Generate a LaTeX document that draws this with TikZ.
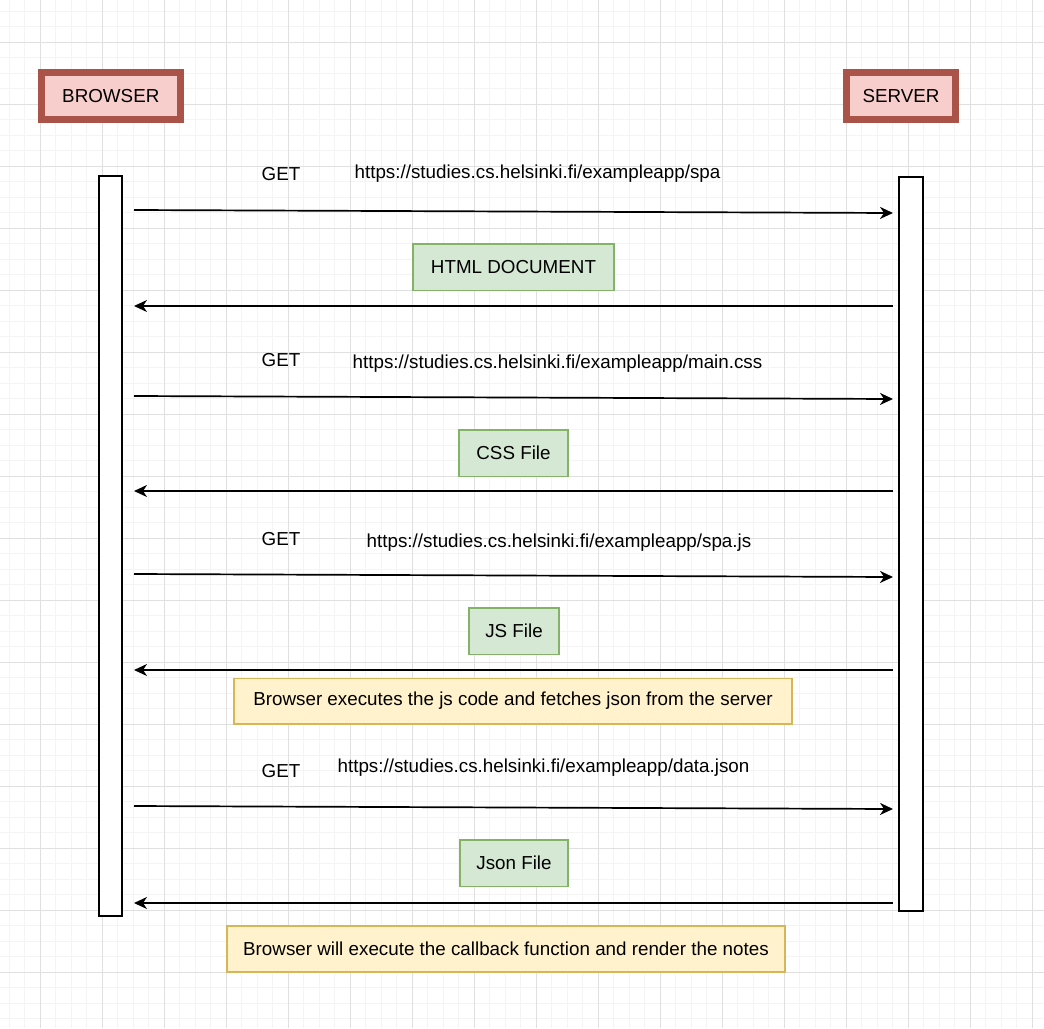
\documentclass[tikz,border=0pt]{standalone}
\usepackage{fontspec}
\setmainfont{Liberation Sans}
\usetikzlibrary{arrows.meta}
\definecolor{gridminor}{HTML}{F4F4F4}
\definecolor{gridmajor}{HTML}{E0E0E0}
\definecolor{actorfill}{HTML}{F8CECC}
\definecolor{actorline}{HTML}{AA5349}
\definecolor{respfill}{HTML}{D5E8D4}
\definecolor{respline}{HTML}{82B366}
\definecolor{notefill}{HTML}{FFF2CC}
\definecolor{noteline}{HTML}{D6B656}
\tikzset{
  lbl/.style={font=\fontsize{18.8}{22}\selectfont, inner sep=0pt},
  actor/.style={lbl, draw=actorline, fill=actorfill, line width=7pt},
  lifeline/.style={draw=black, fill=white, line width=2pt, inner sep=0pt},
  resp/.style={lbl, draw=respline, fill=respfill, line width=1.5pt},
  note/.style={lbl, draw=noteline, fill=notefill, line width=1.5pt},
  msg/.style={line width=1.7pt, -{Stealth[length=13pt,width=12pt,inset=4pt]}},
}
\begin{document}
\begin{tikzpicture}[x=1pt,y=-1pt]
\useasboundingbox (0,0) rectangle (1044,1028);
\fill[white] (0,0) rectangle (1044,1028);
% background grid
\foreach \i in {0,...,67} {
  \draw[gridminor, line width=1pt] (9+15.5*\i,0) -- (9+15.5*\i,1028);
  \draw[gridminor, line width=1pt] (0,11+15.5*\i) -- (1044,11+15.5*\i);
}
\foreach \i in {0,...,17} {
  \draw[gridmajor, line width=1pt] (40+62*\i,0) -- (40+62*\i,1028);
  \draw[gridmajor, line width=1pt] (0,42+62*\i) -- (1044,42+62*\i);
}

% participants
\node[actor, minimum width=139.5pt, minimum height=46.5pt] (browser) at (110.8,96) {BROWSER};
\node[actor, minimum width=109.5pt, minimum height=46.5pt] (server) at (901,96) {SERVER};

% activation bars
\node[lifeline, minimum width=23pt, minimum height=740pt] (bl) at (110.5,546) {};
\node[lifeline, minimum width=23.5pt, minimum height=734pt] (sl) at (911,543.5) {};

% message end points
\coordinate (b1) at (134,210);  \coordinate (s1) at (893,213);
\coordinate (s2) at (893,306);  \coordinate (b2) at (134,306);
\coordinate (b3) at (134,396);  \coordinate (s3) at (893,399);
\coordinate (s4) at (893,491);  \coordinate (b4) at (134,491);
\coordinate (b5) at (134,574);  \coordinate (s5) at (893,577);
\coordinate (s6) at (893,670);  \coordinate (b6) at (134,670);
\coordinate (b7) at (134,806);  \coordinate (s7) at (893,809);
\coordinate (s8) at (893,903);  \coordinate (b8) at (134,903);

\draw[msg] (b1) -- (s1);
\draw[msg] (s2) -- (b2);
\draw[msg] (b3) -- (s3);
\draw[msg] (s4) -- (b4);
\draw[msg] (b5) -- (s5);
\draw[msg] (s6) -- (b6);
\draw[msg] (b7) -- (s7);
\draw[msg] (s8) -- (b8);

% request labels
\node[lbl] (g1) at (281,174) {GET};
\node[lbl] (u1) at (537.5,174) {https://studies.cs.helsinki.fi/exampleapp/spa};
\node[lbl] (g2) at (281,360) {GET};
\node[lbl] (u2) at (557.5,364) {https://studies.cs.helsinki.fi/exampleapp/main.css};
\node[lbl] (g3) at (281,539) {GET};
\node[lbl] (u3) at (559,543) {https://studies.cs.helsinki.fi/exampleapp/spa.js};
\node[lbl] (g4) at (281,771) {GET};
\node[lbl] (u4) at (543.5,768) {https://studies.cs.helsinki.fi/exampleapp/data.json};

% responses
\node[resp, minimum width=201pt, minimum height=46.5pt] (r1) at (513.5,267) {HTML DOCUMENT};
\node[resp, minimum width=109pt, minimum height=46.5pt] (r2) at (513.5,453) {CSS File};
\node[resp, minimum width=90pt, minimum height=46.5pt] (r3) at (514,631) {JS File};
\node[resp, minimum width=108pt, minimum height=46.5pt] (r4) at (514,863) {Json File};

% notes
\node[note, minimum width=558pt, minimum height=45.5pt] (n1) at (513,701) {Browser executes the js code and fetches json from the server};
\node[note, minimum width=558pt, minimum height=46pt] (n2) at (506,949) {Browser will execute the callback function and render the notes};
\end{tikzpicture}
\end{document}
